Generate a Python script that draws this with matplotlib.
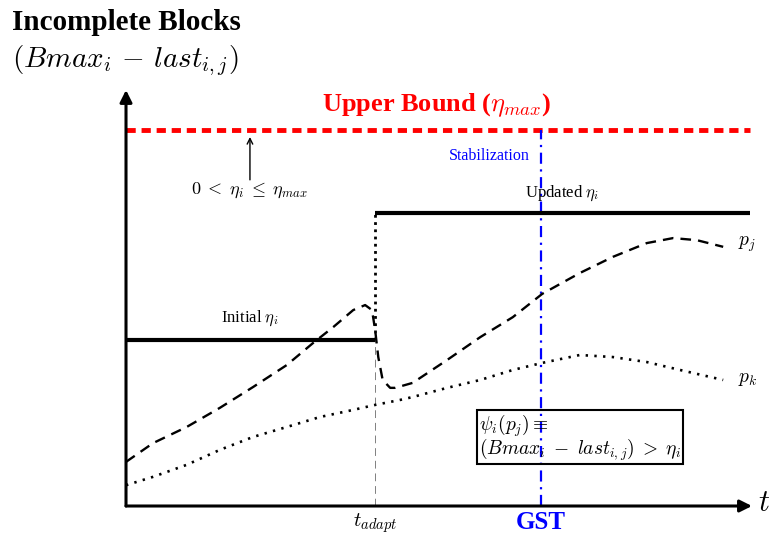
import matplotlib
matplotlib.use("Agg")
import matplotlib.pyplot as plt

plt.rcParams["font.family"] = ["Liberation Serif", "DejaVu Serif"]
plt.rcParams["mathtext.fontset"] = "cm"

# time axis positions of the two curves (arbitrary units)
pj_t = [0, 0.43, 0.97, 1.5, 2.03, 2.57, 2.99, 3.31, 3.63, 3.82, 3.93, 3.98, 4.03,
        4.1, 4.22, 4.3, 4.58, 5.13, 5.66, 6.18, 6.65, 7.25, 7.78, 8.32, 8.74, 9.12, 9.54]
pj_v = [1.06, 1.51, 1.9, 2.36, 2.86, 3.39, 3.92, 4.3, 4.71, 4.83, 4.71, 4.23, 3.58,
        3.03, 2.84, 2.84, 2.96, 3.51, 4.06, 4.54, 5.1, 5.6, 5.99, 6.32, 6.44, 6.39, 6.23]

pk_t = [0, 0.43, 0.97, 1.5, 2.03, 2.57, 3.1, 3.63, 3.98, 4.38, 4.58, 5.13, 5.66,
        6.18, 6.65, 7.25, 7.78, 8.32, 8.85, 9.54]
pk_v = [0.5, 0.7, 0.99, 1.35, 1.66, 1.9, 2.14, 2.31, 2.43, 2.55, 2.62, 2.84, 3.03,
        3.27, 3.44, 3.63, 3.58, 3.46, 3.27, 3.03]

# thresholds and event times
eta_max = 9.04
eta_initial = 4.0
eta_updated = 7.05
t_adapt = 3.98
t_gst = 6.63
t_end = 10.0
y_top = 10.0

fig = plt.figure(figsize=(7.69, 5.35), dpi=100)
ax = fig.add_axes([0, 0, 1, 1])
ax.set_xlim(-2.013, 10.272)
ax.set_ylim(-0.697, 12.163)
ax.axis("off")

# axes with arrow heads
ax.annotate("", xy=(t_end, 0), xytext=(0, 0),
            arrowprops=dict(arrowstyle="-|>", lw=2.2, color="black",
                            mutation_scale=18, shrinkA=0, shrinkB=0))
ax.annotate("", xy=(0, y_top), xytext=(0, 0),
            arrowprops=dict(arrowstyle="-|>", lw=2.2, color="black",
                            mutation_scale=18, shrinkA=0, shrinkB=0))

# upper bound
ax.plot([0, 9.97], [eta_max, eta_max], color="red", lw=3.5,
        dashes=(1.9, 1.2), solid_capstyle="butt", dash_capstyle="butt")
ax.text(4.97, 9.64, r"Upper Bound ($\eta_{max}$)", color="red",
        fontsize=19, fontweight="bold", ha="center", va="center")

# admissible range arrow
ax.annotate("", xy=(1.98, 8.87), xytext=(1.98, 7.84),
            arrowprops=dict(arrowstyle="->", lw=1.0, color="black",
                            mutation_scale=10, shrinkA=0, shrinkB=0))
ax.text(1.98, 7.6, r"$0 \;<\; \eta_i \;\leq\; \eta_{max}$", fontsize=13,
        ha="center", va="center")

# GST stabilisation line
ax.plot([t_gst, t_gst], [0, eta_max], color="blue", lw=1.6,
        dashes=(5, 2.5, 1, 2.5))
ax.text(5.81, 8.41, "Stabilization", color="blue", fontsize=11.5,
        ha="center", va="center")
ax.text(t_gst, -0.4, "GST", color="blue", fontsize=18, fontweight="bold",
        ha="center", va="center")

# thresholds
ax.plot([0, t_adapt], [eta_initial, eta_initial], color="black", lw=3,
        solid_capstyle="butt")
ax.plot([t_adapt, 9.97], [eta_updated, eta_updated], color="black", lw=3,
        solid_capstyle="butt")
ax.plot([t_adapt, t_adapt], [eta_initial, eta_updated], color="black", lw=2,
        dashes=(1, 1.6))
ax.plot([t_adapt, t_adapt], [0, eta_initial], color="gray", lw=0.7,
        dashes=(8, 5))
ax.text(1.97, 4.52, r"Initial $\eta_i$", fontsize=12, ha="center", va="center")
ax.text(6.96, 7.52, r"Updated $\eta_i$", fontsize=12, ha="center", va="center")
ax.text(t_adapt, -0.41, r"$t_{adapt}$", fontsize=15, ha="center", va="center")

# processes
ax.plot(pj_t, pj_v, color="black", lw=1.7, dashes=(4.5, 3.0))
ax.plot(pk_t, pk_v, color="black", lw=1.9, dashes=(0.9, 2.4))
ax.text(9.78, 6.3, r"$p_j$", fontsize=14, ha="left", va="center")
ax.text(9.78, 3.03, r"$p_k$", fontsize=14, ha="left", va="center")

# suspicion predicate
ax.text(5.64, 1.65, r"$\psi_i(p_j) \equiv$" + "\n" +
        r"$(Bmax_i \;-\; last_{i,j}) \;>\; \eta_i$",
        fontsize=14, ha="left", va="center", linespacing=0.85,
        bbox=dict(boxstyle="square,pad=0.1", fc="none", ec="black", lw=1.5))

ax.text(10.2, 0.07, r"$t$", fontsize=22, ha="center", va="center")

fig.text(12 / 769, 1 - 22 / 535, "Incomplete Blocks", fontsize=21,
         fontweight="bold", ha="left", va="center")
fig.text(12 / 769, 1 - 61 / 535, r"$(Bmax_i \,-\, last_{i,j})$", fontsize=21,
         ha="left", va="center")

fig.savefig("out.png", dpi=100)
